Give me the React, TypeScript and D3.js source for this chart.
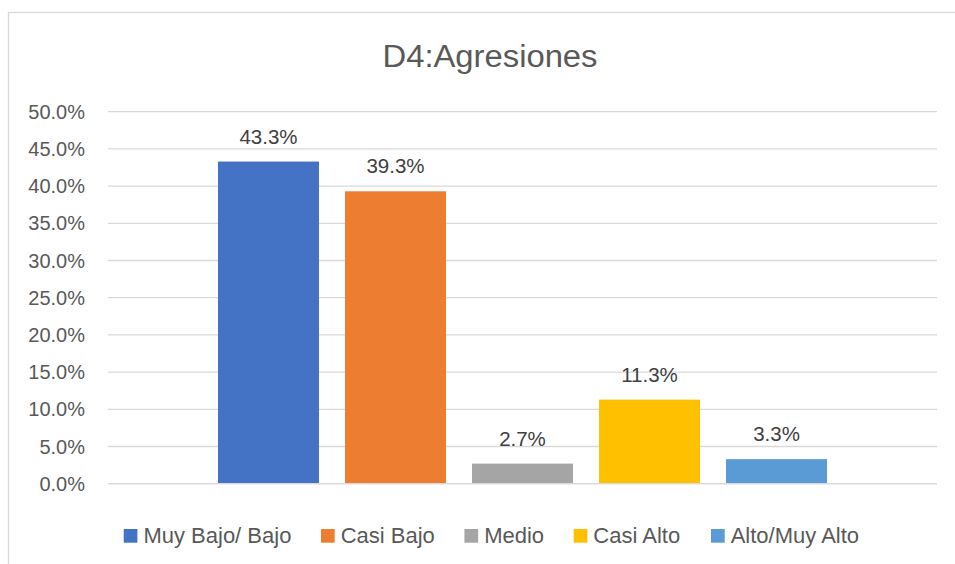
import React from "react";
import * as d3 from "d3";

const title = "D4:Agresiones";
const series = ["Muy Bajo/ Bajo", "Casi Bajo", "Medio", "Casi Alto", "Alto/Muy Alto"];
const values = [43.3, 39.3, 2.7, 11.3, 3.3];
const colors = ["#4472C4", "#ED7D31", "#A5A5A5", "#FFC000", "#5B9BD5"];
const yTicks = [0, 5, 10, 15, 20, 25, 30, 35, 40, 45, 50];

const W = 955;
const H = 564;
const FONT = "'Liberation Sans', Arial, sans-serif";

function measure(text: string, size: number) {
  const c = document.createElement("canvas");
  const ctx = c.getContext("2d")!;
  ctx.font = `${size}px 'Liberation Sans', Arial, sans-serif`;
  return ctx.measureText(text).width;
}

export default function App() {
  const plot = { left: 108, right: 937, top: 111.7, bottom: 483.7 };
  const y = d3.scaleLinear().domain([0, 50]).range([plot.bottom, plot.top]);
  const cat = d3.scaleBand().domain(["g"]).range([plot.left, plot.right]).paddingInner(0).paddingOuter(0);
  const groupW = 609;
  const gx = (cat("g") as number) + (cat.bandwidth() - groupW) / 2;
  const x = d3.scaleBand().domain(series).range([gx, gx + groupW]).paddingInner(0.205).paddingOuter(0);

  const legendSize = 22;
  const sq = 13.7;
  const sqGap = 6;
  const itemGap = 29.6;
  const widths = series.map((s) => sq + sqGap + measure(s, legendSize));
  const total = d3.sum(widths) + itemGap * (series.length - 1);
  let lx = 492 - total / 2;
  const legendItems = series.map((s, i) => {
    const pos = lx;
    lx += widths[i] + itemGap;
    return { s, pos, color: colors[i] };
  });

  return (
    <svg width={W} height={H} style={{ position: "absolute", left: 0, top: 0, background: "#fff" }} fontFamily={FONT}>
      <rect x={8.5} y={12.5} width={W + 20} height={H + 20} fill="#fff" stroke="#D9D9D9" strokeWidth={1.3} />
      <text x={490} y={66.7} textAnchor="middle" fontSize={31} fill="#595959" textLength={215} lengthAdjust="spacingAndGlyphs">
        {title}
      </text>
      {yTicks.map((t) => (
        <g key={t}>
          <line x1={plot.left} x2={plot.right} y1={y(t)} y2={y(t)} stroke="#D9D9D9" strokeWidth={1.3} />
          <text x={85} y={y(t) + 7} textAnchor="end" fontSize={20} fill="#595959">
            {t.toFixed(1) + "%"}
          </text>
        </g>
      ))}
      {series.map((s, i) => (
        <g key={s}>
          <rect x={x(s)} y={y(values[i])} width={x.bandwidth()} height={y(0) - y(values[i])} fill={colors[i]} />
          <text x={(x(s) as number) + x.bandwidth() / 2} y={y(values[i]) - 18} textAnchor="middle" fontSize={20.5} fill="#404040">
            {values[i].toFixed(1) + "%"}
          </text>
        </g>
      ))}
      <line x1={plot.left} x2={plot.right} y1={y(0)} y2={y(0)} stroke="#D9D9D9" strokeWidth={1.3} />
      {legendItems.map((it) => (
        <g key={it.s}>
          <rect x={it.pos} y={529} width={sq} height={sq} fill={it.color} />
          <text x={it.pos + sq + sqGap} y={542.7} fontSize={legendSize} fill="#595959">
            {it.s}
          </text>
        </g>
      ))}
    </svg>
  );
}
